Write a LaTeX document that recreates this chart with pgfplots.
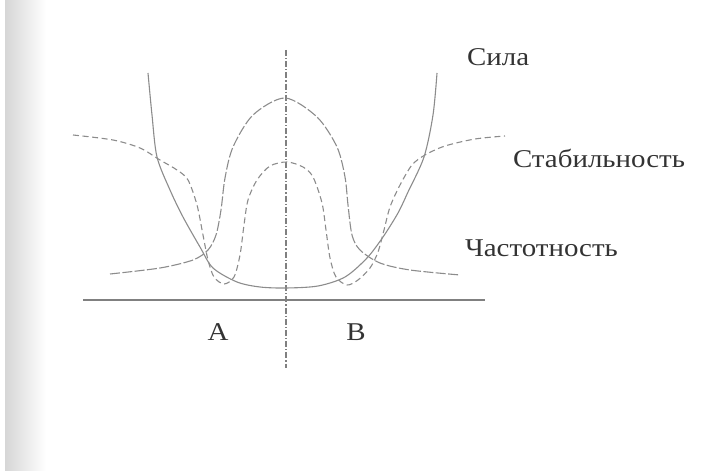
\documentclass[border=0pt]{standalone}
\usepackage{fontspec}
\setmainfont{Liberation Serif}[FakeStretch=1.13]
\usepackage{pgfplots}
\pgfplotsset{compat=1.18}

% coordinates: origin where the two axes cross, one unit = one pixel of the reference
\pgfplotstableread{
x y
-138 227
-134 185
-129 143
-116 110
-103 83
-86 53
-73 32
-49 18
-26 13
0 12
32 14
59 23
81 42
97 63
112 87
122 108
138 143
147 185
151 227
}\sila

\pgfplotstableread{
x y
-176 26
-126 32
-93 40
-78 50
-70 65
-65 90
-61 122
-53 153
-33 185
-1 202
31 183
51 153
59 123
62 95
66 65
74 50
94 37
124 30
174 25
}\chast

\pgfplotstableread{
x y
-213 165
-173 160
-146 152
-126 140
-109 130
-98 120
-89 95
-83 65
-78 40
-72 23
-62 16
-52 23
-46 45
-42 75
-38 100
-29 120
-16 134
1 138
17 133
27 123
36 97
40 70
44 42
50 23
61 15
72 20
84 32
92 48
98 70
104 93
114 115
126 135
139 145
159 154
189 161
219 164
}\stab

\begin{document}
\begin{tikzpicture}
\begin{axis}[
  scale only axis,
  width=352.5pt,
  height=235pt,
  xmin=-286, xmax=419,
  ymin=-170, ymax=300,
  hide axis,
  clip=false,
  every axis plot/.append style={line width=0.55pt, black!45}
]
\fill[left color=black!16, right color=white, draw=none]
  (axis cs:-281,-170) rectangle (axis cs:-240,300);
\path (axis cs:-286,-170) rectangle (axis cs:419,300);

% axes
\addplot[black!50] coordinates {(-203,0) (199,0)};
\addplot[black!50, dash pattern=on 3pt off 1pt on 0.6pt off 1pt] coordinates {(0,250) (0,-68)};

\addplot[smooth, tension=0.5] table {\sila};
\addplot[smooth, tension=0.5, dash pattern=on 5pt off 1.2pt] table {\chast};
\addplot[smooth, tension=0.5, dash pattern=on 3pt off 1.8pt] table {\stab};

\begin{scope}[every node/.style={text=black!80, font=\fontsize{12.8}{14}\selectfont}]
\node[anchor=west] at (axis cs:174,243) {Сила};
\node[anchor=west] at (axis cs:220,142) {Стабильность};
\node[anchor=west] at (axis cs:172,52) {Частотность};
\node at (axis cs:-68,-32) {A};
\node at (axis cs:70,-32) {B};
\end{scope}
\end{axis}
\end{tikzpicture}
\end{document}
